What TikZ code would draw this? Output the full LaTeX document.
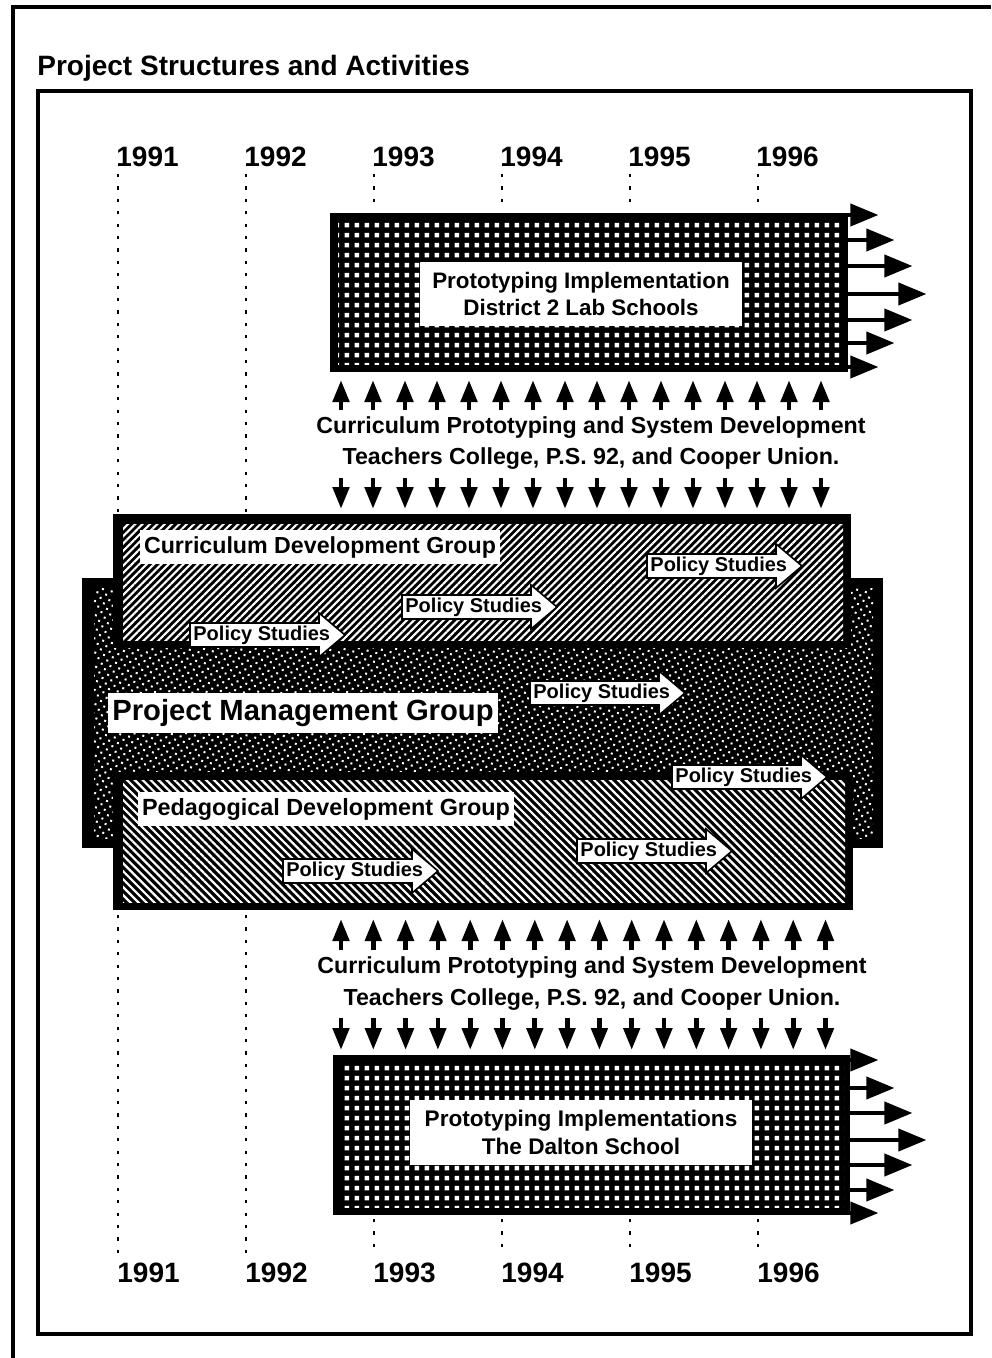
\documentclass[tikz,border=0pt]{standalone}
\usepackage{fontspec}
\setmainfont{Liberation Sans}
\usetikzlibrary{patterns,patterns.meta,arrows.meta}

% white squares on a dark ground, used for the implementation boxes
\tikzdeclarepattern{
  name=whitesquares,
  type=uncolored,
  bounding box={(0pt,0pt) and (5.2pt,5.2pt)},
  tile size={(5.2pt,5.2pt)},
  code={\fill (1.4pt,1.4pt) rectangle (3.8pt,3.8pt);}
}

\tikzset{
  fs/.style={font=\bfseries\fontsize{#1}{#1}\selectfont},
  title/.style={fs=14, anchor=base west, inner sep=0},
  year/.style={fs=14, anchor=base west, inner sep=0},
  yearline/.style={line width=1.1pt, dash pattern=on 1.6pt off 4.6pt},
  gridbox/.style={fill=black, inner sep=0,
    path picture={\fill[pattern=whitesquares, pattern color=white]
      ([shift={(4pt,-4pt)}]path picture bounding box.north west) rectangle
      ([shift={(-3pt,4pt)}]path picture bounding box.south east);}},
  neboxes/.style={fill=black, inner sep=0,
    path picture={\fill[pattern={Lines[angle=45,distance=2.6pt,line width=1.05pt]}, pattern color=white]
      ([shift={(5pt,-5pt)}]path picture bounding box.north west) rectangle
      ([shift={(-4pt,4pt)}]path picture bounding box.south east);}},
  nwboxes/.style={fill=black, inner sep=0,
    path picture={\fill[pattern={Lines[angle=-45,distance=2.8pt,line width=1.1pt]}, pattern color=white]
      ([shift={(5pt,-4pt)}]path picture bounding box.north west) rectangle
      ([shift={(-4pt,4pt)}]path picture bounding box.south east);}},
  dotbox/.style={fill=black, inner sep=0,
    path picture={\fill[pattern={Dots[radius=0.7pt,distance=3.2pt,angle=30]}, pattern color=white]
      ([shift={(6pt,-5pt)}]path picture bounding box.north west) rectangle
      ([shift={(-5pt,5pt)}]path picture bounding box.south east);}},
  whitelabel/.style={fill=white, inner sep=0, align=center},
  grouplabel/.style={fill=white, inner xsep=2pt, inner ysep=3pt},
  midtext/.style={align=center, inner sep=0},
  bigarrow/.style={line width=2pt, -{Triangle[length=14pt,width=11pt]}},
  smallarrow/.style={line width=2.4pt, -{Triangle[length=11pt,width=8pt]}},
  pstext/.style={fs=10, inner sep=0, anchor=west},
  policy/.pic={
    \filldraw[fill=white, draw=black, line width=0.8pt]
      (0,-12) -- (129,-12) -- (129,-22) -- (155,0) -- (129,22) -- (129,12) -- (0,12) -- cycle;
    \node[pstext] (-t) at (3,0) {Policy Studies};
  }
}

\begin{document}
\begin{tikzpicture}[x=0.5pt,y=-0.5pt]
\useasboundingbox (0,0) rectangle (991,1358);

% page frames
\draw[line width=2.4pt] (13,1358) -- (13,7) -- (991,7);
\draw[line width=1.8pt] (38,91) rectangle (971,1334);

% heading
\node[title] (heading) at (37,76) {Project Structures and Activities};

% years along the top and the bottom, with their dotted guides
\foreach \yr/\xx [count=\i] in {1991/116,1992/244,1993/372,1994/500,1995/628,1996/756} {
  \node[year] (ytop\i) at (\xx,167) {\yr};
  \node[year] (ybot\i) at ({\xx+1},1282) {\yr};
}
\foreach \xx in {118,246} {
  \draw[yearline] (\xx,174) -- (\xx,512);
  \draw[yearline] (\xx,915) -- (\xx,1256);
}
\foreach \xx in {374,502,630,758} {
  \draw[yearline] (\xx,174) -- (\xx,211);
  \draw[yearline] (\xx,1219) -- (\xx,1256);
}

% upper implementation box
\node[gridbox, minimum width=259pt, minimum height=79.5pt] (lab) at (589,292.5) {};
\node[whitelabel, fs=11.2, minimum width=161pt, minimum height=32pt] (labtxt) at (581,294)
  {Prototyping Implementation\\[2.3pt]District 2 Lab Schools};
\foreach \dy/\len in {38.75/32,26.25/48,13.25/66,-0.75/80,-13.75/66,-25.25/48,-37.25/32}
  \draw[bigarrow] ([yshift=\dy pt, xshift=-1pt]lab.east) -- ++(\len,0);

% upper curriculum prototyping band
\node[midtext, fs=11.6] (cpsA) at (591,443)
  {Curriculum Prototyping and System Development\\[3.6pt]Teachers College, P.S. 92, and Cooper Union.};
\foreach \i in {0,...,15} {
  \coordinate (uA\i) at ({341+32*\i},410);
  \coordinate (uB\i) at ({341+32*\i},380);
  \draw[smallarrow] (uA\i) -- (uB\i);
  \coordinate (dA\i) at ({341+32*\i},478);
  \coordinate (dB\i) at ({341+32*\i},509);
  \draw[smallarrow] (dA\i) -- (dB\i);
}

% the three groups
\node[dotbox, minimum width=400.5pt, minimum height=135pt] (pmg) at (482.5,713) {};
\node[neboxes, minimum width=369pt, minimum height=67pt] (cdg) at (482,581) {};
\node[nwboxes, minimum width=370pt, minimum height=69pt] (pdg) at (483,841) {};

\node[grouplabel, fs=11.6] (cdgtxt) at (320,547) {Curriculum Development Group};
\node[grouplabel, font=\fontsize{14.6}{15}\selectfont\bfseries] (pmgtxt) at (303,713) {Project Management Group};
\node[grouplabel, fs=11.7] (pdgtxt) at (326,809) {Pedagogical Development Group};

% policy studies running through the groups
\pic (psA) at (190,635) {policy};
\pic (psB) at (402,607) {policy};
\pic (psC) at (647,566) {policy};
\pic (psD) at (530,693) {policy};
\pic (psE) at (672,777) {policy};
\pic (psF) at (577,851) {policy};
\pic (psG) at (283,871) {policy};

% lower curriculum prototyping band
\node[midtext, fs=11.6] (cpsB) at (592,984)
  {Curriculum Prototyping and System Development\\[4.4pt]Teachers College, P.S. 92, and Cooper Union.};
\foreach \i in {0,...,15} {
  \coordinate (lA\i) at ({341+32.3*\i},950);
  \coordinate (lB\i) at ({341+32.3*\i},919);
  \draw[smallarrow] (lA\i) -- (lB\i);
  \coordinate (mA\i) at ({341+32.3*\i},1018);
  \coordinate (mB\i) at ({341+32.3*\i},1050);
  \draw[smallarrow] (mA\i) -- (mB\i);
}

% lower implementation box
\node[gridbox, minimum width=258.5pt, minimum height=80pt] (dalton) at (591.5,1135) {};
\node[whitelabel, fs=11.3, minimum width=171pt, minimum height=32.5pt] (daltontxt) at (581,1132.5)
  {Prototyping Implementations\\[2.5pt]The Dalton School};
\foreach \dy/\len in {37.5/30,23.5/46,11/64,-2.5/78,-15/64,-27.5/46,-39/30}
  \draw[bigarrow] ([yshift=\dy pt, xshift=-1pt]dalton.east) -- ++(\len,0);

\end{tikzpicture}
\end{document}
